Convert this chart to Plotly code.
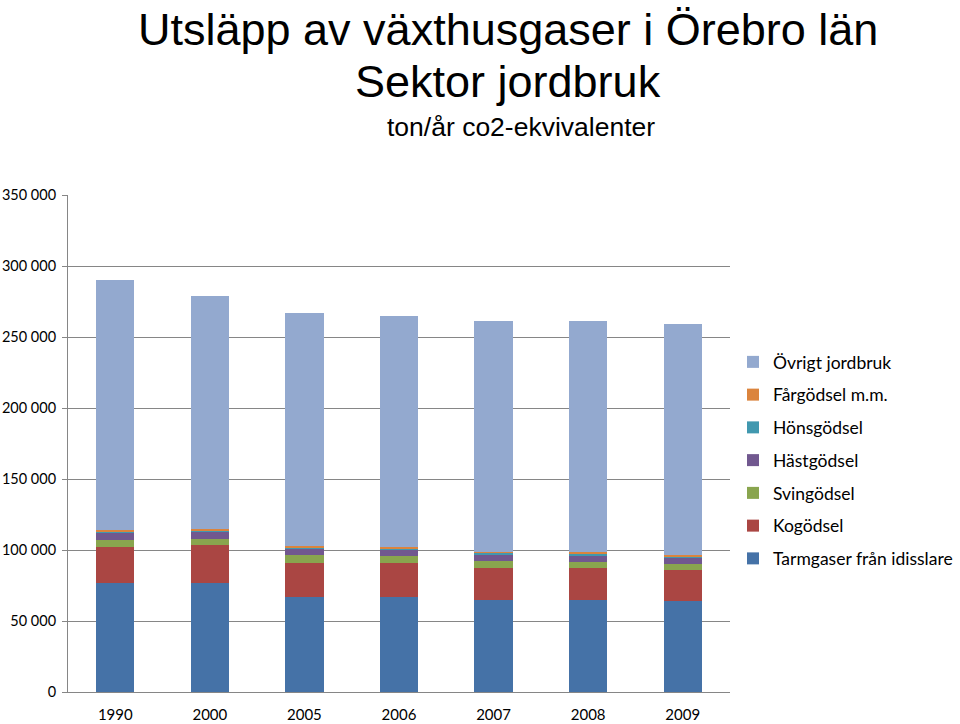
import plotly.graph_objects as go

years = ["1990", "2000", "2005", "2006", "2007", "2008", "2009"]
tarmgaser = [76500, 77000, 67100, 67100, 64800, 64800, 64100]
kogodsel = [25800, 26300, 24000, 24000, 22700, 22300, 21800]
svingodsel = [4700, 4700, 5200, 4700, 4700, 4450, 4200]
hastgodsel = [5100, 4700, 4700, 4200, 4700, 4900, 4750]
honsgodsel = [1000, 1100, 1000, 1300, 1000, 1100, 800]
fargodsel = [800, 800, 700, 1000, 650, 800, 600]
ovrigt = [176200, 164300, 164000, 162700, 162750, 162950, 162850]

series = [
    ("Tarmgaser från idisslare", tarmgaser, "#4572A7"),
    ("Kogödsel", kogodsel, "#AA4643"),
    ("Svingödsel", svingodsel, "#89A54E"),
    ("Hästgödsel", hastgodsel, "#71588F"),
    ("Hönsgödsel", honsgodsel, "#4198AF"),
    ("Fårgödsel m.m.", fargodsel, "#DB843D"),
    ("Övrigt jordbruk", ovrigt, "#93A9CF"),
]

tickvals = [0, 50000, 100000, 150000, 200000, 250000, 300000, 350000]
ticktext = ["0", "50 000", "100 000", "150 000", "200 000", "250 000", "300 000", "350 000"]

fig = go.Figure()
n = len(series)
for i, (name, vals, col) in enumerate(series):
    fig.add_trace(go.Bar(x=years, y=vals, name=name, legendgroup=name, legendrank=n - i,
                         marker=dict(color=col, line=dict(width=0))))

fig.update_layout(
    barmode="stack",
    bargap=0.595,
    width=960, height=724,
    margin=dict(l=68, r=230, t=195, b=32, autoexpand=False),
    paper_bgcolor="white", plot_bgcolor="white",
    font=dict(family="Lato, Open Sans, sans-serif", color="black", size=14),
    showlegend=True,
    legend=dict(traceorder="grouped", xref="container", yref="container",
                x=733 / 960, y=1 - 344 / 724, xanchor="left", yanchor="top",
                font=dict(size=17.5, family="Lato, sans-serif"), tracegroupgap=7,
                itemwidth=30, bgcolor="rgba(0,0,0,0)"),
    xaxis=dict(type="category", showline=True, linecolor="#868686", linewidth=1,
               ticks="outside", ticklen=0, tickfont=dict(size=15), showgrid=False,
               ticklabelstandoff=9),
    yaxis=dict(range=[0, 350000], tickvals=tickvals, ticktext=ticktext, showgrid=True,
               gridcolor="#868686", gridwidth=1, showline=True, linecolor="#868686",
               ticks="outside", ticklen=5, tickcolor="#868686", tickfont=dict(size=14.5),
               zeroline=False, ticklabelstandoff=3),
    annotations=[
        dict(text="Utsläpp av växthusgaser i Örebro län", x=507.5, y=30, xref="paper", yref="paper",
             showarrow=False, font=dict(size=45, family="Liberation Sans, Arial, sans-serif")),
        dict(text="Sektor jordbruk", x=508, y=82, xref="paper", yref="paper",
             showarrow=False, font=dict(size=45, family="Liberation Sans, Arial, sans-serif")),
        dict(text="ton/år co2-ekvivalenter", x=520.5, y=127, xref="paper", yref="paper",
             showarrow=False, font=dict(size=26.5, family="Liberation Sans, Arial, sans-serif")),
    ],
)

pw = 960 - 68 - 230
ph = 724 - 195 - 32
for a in fig.layout.annotations:
    px, py = a.x, a.y
    a.x = (px - 68) / pw
    a.y = (724 - 32 - py) / ph
    a.xanchor = "center"
    a.yanchor = "middle"

fig.write_html("out.html")
